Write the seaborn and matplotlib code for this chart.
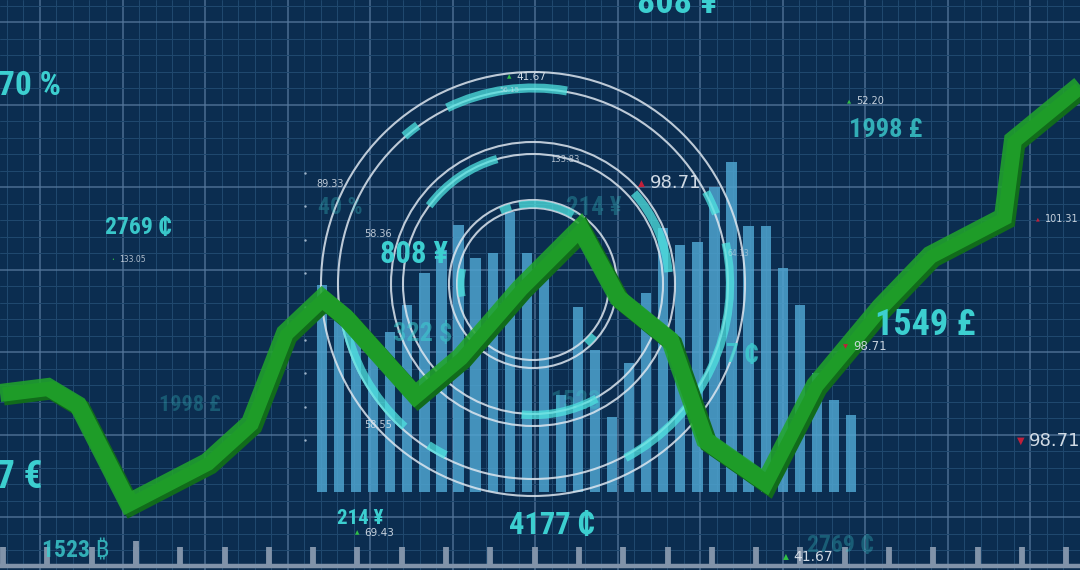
import numpy as np
import pandas as pd
import matplotlib
matplotlib.use("Agg")
import matplotlib.pyplot as plt
import matplotlib.patheffects as pe
from matplotlib.patches import Circle, Arc
from matplotlib import font_manager as fm
import seaborn as sns

# ---------------- data ----------------
bar_labels = [f"b{i:02d}" for i in range(32)]
bar_heights = [207, 180, 170, 147, 160, 187, 219, 242, 267, 234, 239, 280, 239, 215, 97, 185,
               142, 75, 129, 199, 264, 247, 250, 305, 330, 266, 266, 224, 187, 119, 92, 77]

line_x = [0, 48, 78, 128, 207, 250, 285, 322, 345, 415, 460, 520, 580, 618, 670, 705, 765, 815, 880, 930, 1003, 1013, 1080]
line_y = [177, 183, 165, 67, 108, 147, 237, 272, 253, 175, 213, 282, 342, 272, 230, 130, 88, 185, 263, 315, 353, 430, 485]

big_labels = ["808 ¥", "70 %", "2769 ₵", "1998 £", "808 ¥", "40 %", "322 $", "214 ¥", "1549 £",
              "1523", "7 ₵", "1998 £", "7 €", "214 ¥", "4177 ₵", "1523 ₿", "2769 ₵"]
small_labels = ["41.67", "56.15", "133.83", "98.71", "89.33", "58.36", "133.05", "52.20", "101.31",
                "64.13", "98.71", "58.55", "98.71", "69.43", "41.67"]
small_marks = ["up", None, None, "red", None, None, "dot", "up", "red", None, "down", None, "down", "up", "up"]

# ---------------- style ----------------
sns.set_theme(style="dark")

# pick a narrow / condensed face if one is installed
names = sorted({f.name for f in fm.fontManager.ttflist})
narrow = None
for pref in ["Liberation Sans Narrow", "Roboto Condensed", "Open Sans Condensed", "DejaVu Sans Condensed",
             "Noto Sans Condensed"]:
    if pref in names:
        narrow = pref
        break
if narrow is None:
    cands = [n for n in names if ("Narrow" in n or "Condensed" in n)]
    narrow = cands[0] if cands else None
cond_stretch = "normal"
if narrow is None:
    cond = [f for f in fm.fontManager.ttflist if f.stretch in ("condensed", "semi-condensed", "extra-condensed")]
    if cond:
        narrow = cond[0].name
        cond_stretch = "condensed"
BIG_FAMILY = [narrow, "DejaVu Sans", "Noto Sans"] if narrow else ["DejaVu Sans", "Noto Sans"]
size_scale = 1.0 if narrow else 0.78
plt.rcParams["font.family"] = BIG_FAMILY

BG = "#0b2d50"
BAR = "#4ea3cf"
GREEN = "#21a52b"
CYAN = "#3ccfd0"
ARC = "#4fe3e0"
W, H = 1080, 570

fig = plt.figure(figsize=(10.8, 5.7), dpi=100, facecolor=BG)

# background grid axes (pixel space, y up)
ax = fig.add_axes([0, 0, 1, 1])
ax.set_xlim(0, W)
ax.set_ylim(0, H)
ax.set_facecolor(BG)
ax.set_xticks(np.arange(40, W + 1, 82.6))
ax.set_xticks(np.arange(40 - 2 * 16.52, W + 1, 16.52), minor=True)
ax.set_yticks(np.arange(H - 22, -1, -82.5))
ax.set_yticks(np.arange(H - 22 + 16.5, -1, -16.5), minor=True)
ax.grid(which="major", color="#55789c", lw=1.1, alpha=0.85)
ax.grid(which="minor", color="#20496f", lw=0.7)
ax.tick_params(which="both", length=0, labelbottom=False, labelleft=False)
for s in ax.spines.values():
    s.set_visible(False)

# bars axes
ax_b = fig.add_axes([313.5 / W, 78 / H, 546 / W, 414 / H])
df = pd.DataFrame({"k": bar_labels, "v": bar_heights})
sns.barplot(data=df, x="k", y="v", ax=ax_b, color=BAR, saturation=1, width=0.6, alpha=0.85,
            linewidth=0, edgecolor="none")
ax_b.set_xlim(-0.5, 31.5)
ax_b.set_ylim(0, 414)
ax_b.axis("off")
ax_b.patch.set_alpha(0)

# overlay axes
ax_t = fig.add_axes([0, 0, 1, 1])
ax_t.set_xlim(0, W)
ax_t.set_ylim(0, H)
ax_t.axis("off")
ax_t.patch.set_alpha(0)

# green line
sns.lineplot(x=line_x, y=line_y, ax=ax_t, sort=False, color=GREEN, lw=13, alpha=0.86,
             solid_joinstyle="miter", solid_capstyle="butt",
             path_effects=[pe.SimpleLineShadow(offset=(2.5, -2.5), shadow_color="#116b1b", alpha=1.0),
                           pe.Normal()])

# concentric circles
cx, cy = 533, H - 284
for r in [212, 195, 142, 130, 84, 76]:
    ax_t.add_patch(Circle((cx, cy), r, fill=False, ec="#dde6ef", lw=1.5, alpha=0.85))
arcs = [(196, 80, 116, 6.5), (196, 126, 131, 6.5), (196, 21, 28, 6), (197, -62, 12, 6),
        (192, -170, -132, 6), (192, -123, -117, 6), (130, 106, 143, 6), (136, 5, 42, 6),
        (131, -95, -61, 6), (80, 60, 100, 5), (80, 106, 114, 5), (80, -48, -40, 5),
        (72, 168, 190, 5), (80, -6, 2, 5)]
for r, t1, t2, lw in arcs:
    ax_t.add_patch(Arc((cx, cy), 2 * r, 2 * r, theta1=t1, theta2=t2, color=ARC, lw=lw, alpha=0.75,
                       capstyle="butt"))

# dotted vertical axis
dots_y = np.arange(173, 441, 33.4)
ax_t.scatter([305] * len(dots_y), H - dots_y, s=3, color="#9fb3c8", linewidths=0)

# bottom ruler
ax_t.hlines(H - 566, 0, W, color="#8193a9", lw=3.2)
tx = np.arange(3, W + 1, 44.3)
ax_t.vlines(tx, H - 566, H - 547, color="#8193a9", lw=4.2)
ax_t.vlines([tx[3]], H - 566, H - 541, color="#8193a9", lw=4.2)

# big currency labels
big_pos = [(677, 3, 26, 1.0, "center"), (-2, 86, 24, 1.0, "left"), (138, 228, 17, 0.95, "center"),
           (886, 130, 19, 0.8, "center"), (414, 254, 22, 1.0, "center"), (340, 207, 17, 0.3, "center"),
           (423, 334, 19, 0.55, "center"), (594, 208, 18, 0.3, "center"), (925, 325, 26, 1.0, "center"),
           (575, 402, 18, 0.28, "center"), (742, 355, 18, 0.8, "center"), (190, 405, 16, 0.28, "center"),
           (-4, 478, 27, 1.0, "left"), (360, 519, 15, 1.0, "center"), (552, 525, 22, 1.0, "center"),
           (76, 551, 17, 0.8, "center"), (840, 545, 17, 0.3, "center")]
for txt, (x, y, fs, a, ha) in zip(big_labels, big_pos):
    ax_t.text(x, H - y, txt, fontsize=fs * size_scale, color=CYAN, alpha=a, ha=ha, va="center",
              fontweight="bold", fontstretch=cond_stretch)

# small numeric labels
small_pos = [(531, 77, 7.5, 0.95), (509, 90, 5, 0.6), (565, 159, 6, 0.8), (676, 183, 13, 0.95),
             (330, 184, 7, 0.85), (378, 234, 7, 0.85), (133, 260, 5.5, 0.8), (870, 101, 7, 0.9),
             (1062, 219, 7, 0.9), (738, 254, 5.5, 0.5), (870, 347, 8.5, 0.9), (378, 425, 7, 0.85),
             (1055, 441, 13, 0.95), (379, 533, 7.5, 0.9), (813, 557, 10, 0.95)]
for txt, (x, y, fs, a), mk in zip(small_labels, small_pos, small_marks):
    ax_t.text(x, H - y, txt, fontsize=fs, color="#dbe3ec", alpha=a, ha="center", va="center",
              family=["DejaVu Sans"], fontweight="normal")
    off = len(txt) * fs * 0.45 + 5
    sym = {"up": ("▲", "#2fbf45", 0.55), "down": ("▼", "#c0203a", 0.55),
           "red": ("▲", "#c0203a", 0.5), "dot": ("•", "#2fbf45", 0.6)}.get(mk)
    if sym:
        ax_t.text(x - off, H - y, sym[0], fontsize=fs * sym[2], color=sym[1], ha="center", va="center",
                  family=["DejaVu Sans"])

fig.savefig("out.png", dpi=100, facecolor=BG)
